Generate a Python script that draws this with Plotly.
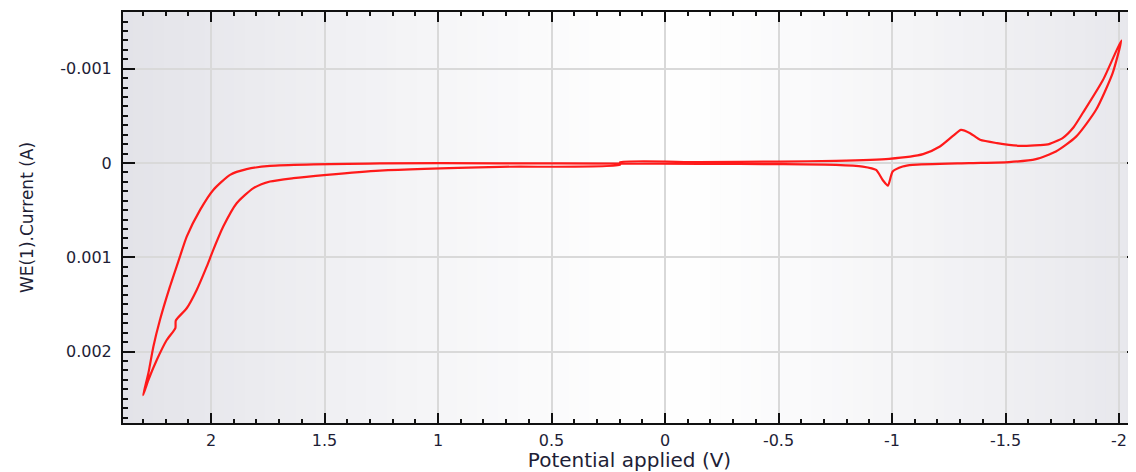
import plotly.graph_objects as go

# ---- data ----
potential = [
    0.198, -0.15, -0.507, -0.753, -0.987, -1.137, -1.211, -1.27, -1.304, -1.344,
    -1.388, -1.463, -1.564, -1.65, -1.692, -1.753, -1.80, -1.841, -1.93, -2.01,
    -1.972, -1.899, -1.811, -1.722, -1.634, -1.515, -1.339, -1.091, -1.047, -1.003,
    -0.982, -0.959, -0.930, -0.871, -0.753, -0.507, -0.154, 0.198, 0.727, 1.256,
    1.740, 1.843, 1.916, 1.990, 2.048, 2.107, 2.137, 2.181, 2.225, 2.254,
    2.276, 2.299,
    2.276, 2.239, 2.195, 2.157, 2.155, 2.107, 2.063, 2.019, 1.990, 1.946,
    1.887, 1.813, 1.740, 1.637, 1.490, 1.256, 0.727, 0.198, 0.198,
]
current = [
    -0.0000074, -0.0000100, -0.0000159, -0.0000234, -0.0000446, -0.0000945, -0.000175, -0.00029, -0.000352, -0.000317,
    -0.000246, -0.000211, -0.000183, -0.000190, -0.000201, -0.000268, -0.00038, -0.000533, -0.000883, -0.0013,
    -0.000954, -0.000565, -0.000280, -0.000122, -0.0000414, -0.0000096, 0.000001, 0.0000191, 0.0000372, 0.0000902,
    0.000239, 0.00018, 0.0000722, 0.0000372, 0.0000191, 0.0000117, 0.0000085, 0.0000064, 0.000003, 0.000003,
    0.00003, 0.000065, 0.000125, 0.000285, 0.000497, 0.00078, 0.000993, 0.001311, 0.001665, 0.001948,
    0.00223, 0.002461,
    0.002301, 0.002089, 0.001877, 0.00175, 0.00167, 0.00154, 0.001346, 0.001099, 0.000921, 0.000674,
    0.000426, 0.000266, 0.000196, 0.00016, 0.000125, 0.00008, 0.00004, 0.0000191, -0.0000074,
]

x_tickvals = [2, 1.5, 1, 0.5, 0, -0.5, -1, -1.5, -2]
x_ticktext = ["2", "1.5", "1", "0.5", "0", "-0.5", "-1", "-1.5", "-2"]
y_tickvals = [-0.001, 0, 0.001, 0.002]
y_ticktext = ["-0.001", "0", "0.001", "0.002"]

x_title = "Potential applied (V)"
y_title = "WE(1).Current (A)"

x_range = [2.3877, -2.0749]
y_range = [0.002757, -0.001602]

FONT = "DejaVu Sans, Verdana, sans-serif"
LABEL_COLOR = "#1e1e36"

fig = go.Figure()
fig.add_trace(go.Scatter(
    x=potential, y=current, mode="lines",
    line=dict(color="#ff1a1a", width=2.2, shape="spline", smoothing=0.6),
    showlegend=False, hoverinfo="skip",
))
# invisible trace to activate right-hand tick axis
fig.add_trace(go.Scatter(x=[potential[0]], y=[current[0]], yaxis="y2",
                         mode="markers", marker=dict(opacity=0),
                         showlegend=False, hoverinfo="skip"))

# background horizontal gradient (grey at edges, white in the middle)
n = 100
for k in range(n):
    t0 = k / n
    t1 = (k + 1) / n
    tc = (t0 + t1) / 2
    d = abs(tc - 0.535) / 0.535
    d = min(d, 1.0)
    g = 255 - 28 * d ** 1.3
    b = 255 - 22 * d ** 1.3
    col = f"rgb({int(g)},{int(g)},{int(b)})"
    fig.add_shape(type="rect", xref="paper", yref="paper",
                  x0=t0, x1=t1 + 0.002, y0=0, y1=1,
                  fillcolor=col, line=dict(width=0), layer="below")

axis_common = dict(
    showgrid=True, gridcolor="#d9d9d9", gridwidth=2,
    zeroline=False, showline=True, linecolor="#111111", linewidth=2,
    ticks="inside", tickcolor="#111111", tickwidth=2,
    tickfont=dict(family=FONT, size=16, color=LABEL_COLOR),
)

# the page body has an 8px margin, so the figure is sized to fill the rest
fig.update_layout(
    width=1128, height=464,
    margin=dict(l=115, r=0, t=4, b=49),
    paper_bgcolor="white", plot_bgcolor="white",
    font=dict(family=FONT, color=LABEL_COLOR),
    xaxis=dict(
        **axis_common,
        range=x_range, autorange=False,
        tickmode="array", tickvals=x_tickvals, ticktext=x_ticktext,
        ticklen=10, mirror="ticks",
        minor=dict(ticks="inside", ticklen=4, tickwidth=2, tickcolor="#111111",
                   tick0=0, dtick=0.1, showgrid=False),
        ticklabelstandoff=2,
        title=dict(text=x_title, font=dict(family=FONT, size=20, color=LABEL_COLOR), standoff=2),
    ),
    yaxis=dict(
        **axis_common,
        range=y_range, autorange=False,
        tickmode="array", tickvals=y_tickvals, ticktext=y_ticktext,
        ticklen=12,
        minor=dict(ticks="inside", ticklen=5, tickwidth=2, tickcolor="#111111",
                   tick0=0, dtick=0.0001, showgrid=False),
        ticklabelstandoff=6,
        title=dict(text=y_title, font=dict(family=FONT, size=17, color=LABEL_COLOR), standoff=22),
    ),
    yaxis2=dict(
        overlaying="y", side="right", range=y_range, autorange=False,
        tickmode="array", tickvals=y_tickvals, showticklabels=False,
        ticks="inside", ticklen=9, tickwidth=2, tickcolor="#111111",
        showgrid=False, zeroline=False, showline=False,
    ),
)

fig.write_html("out.html")
